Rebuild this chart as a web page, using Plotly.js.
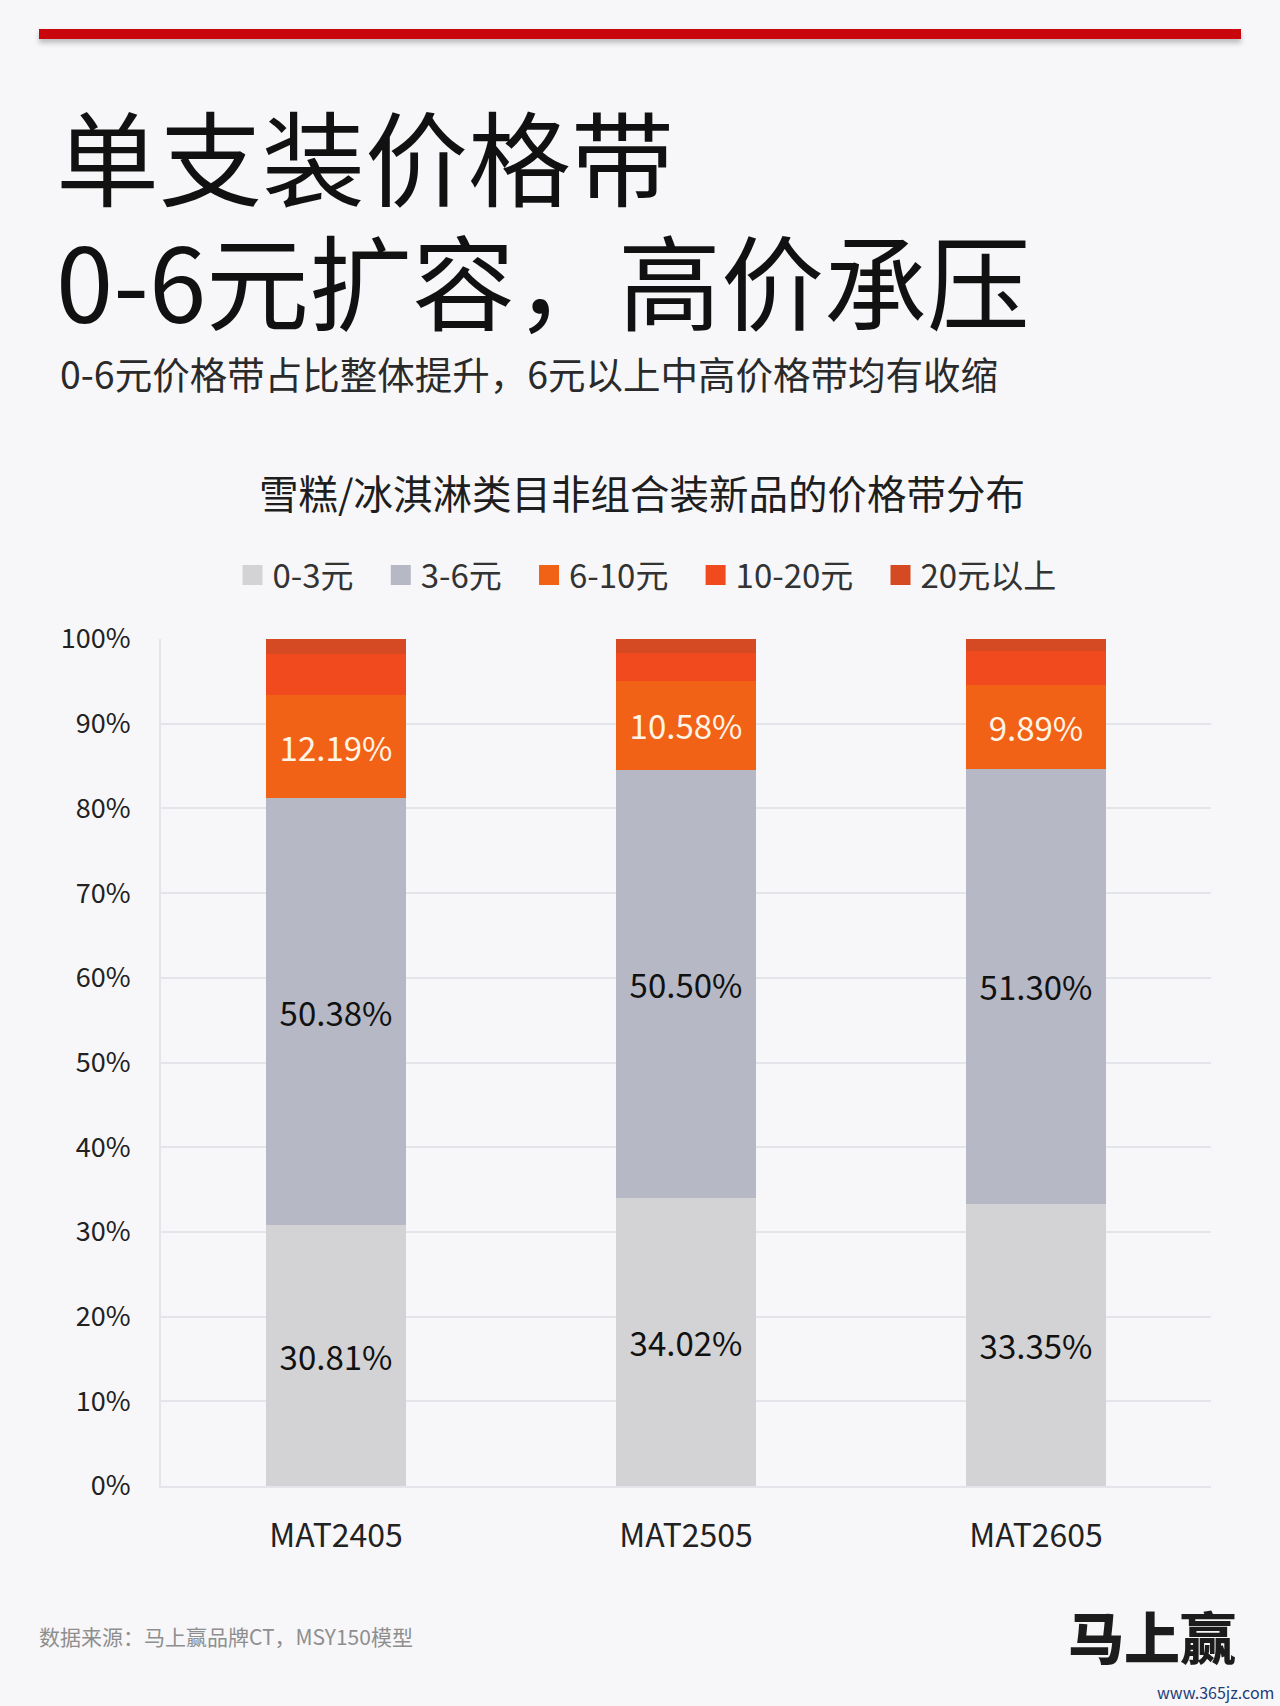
<!DOCTYPE html>
<html>
<head>
<meta charset="utf-8">
<script src="https://cdn.plot.ly/plotly-3.0.1.min.js"></script>
<style>
    html, body { margin: 0; padding: 0; background: #f7f7f9; }
    #page { position: relative; width: 1280px; height: 1706px; }
    #chart { position: absolute; left: 0; top: 0; width: 1280px; height: 1706px; }
    #topbar {
        position: absolute; left: 39px; top: 29px; width: 1202px; height: 10px;
        background: #c8060c; box-shadow: 0 4px 5px rgba(120, 120, 120, 0.45);
        z-index: 5; pointer-events: none;
    }
    .head {
        position: absolute; left: 56px; margin: 0; white-space: nowrap;
        font-family: "Noto Sans CJK SC", "Noto Sans", sans-serif;
        font-weight: 400; color: #111111; z-index: 5;
    }
    #head1, #head2 { font-size: 103px; line-height: 103px; height: 103px; }
    #head1 { top: 103px; }
    #head2 { top: 227px; }
    #subhead { left: 60px; top: 354px; font-size: 37.5px; line-height: 38px; height: 38px; color: #2a2a2a; }
</style>
</head>
<body>
<div id="page">
    <div id="chart"></div>
    <div id="topbar"></div>
    <div class="head" id="head1">单支装价格带</div>
    <div class="head" id="head2">0-6元扩容，高价承压</div>
    <div class="head" id="subhead">0-6元价格带占比整体提升，6元以上中高价格带均有收缩</div>
</div>
<script>
// values (share of new SKUs, %)
var periods = ['MAT2405', 'MAT2505', 'MAT2605'];
var bandNames = ['0-3元', '3-6元', '6-10元', '10-20元', '20元以上'];
var band0to3 = [30.81, 34.02, 33.35];
var band3to6 = [50.38, 50.50, 51.30];
var band6to10 = [12.19, 10.58, 9.89];
var band10to20 = [4.85, 3.25, 4.00];
var band20plus = [1.77, 1.65, 1.46];
var yTicks = [0, 10, 20, 30, 40, 50, 60, 70, 80, 90, 100];

var bandColors = ['#d3d3d5', '#b6b9c5', '#f16216', '#f14a1f', '#d54a22'];
var labelColors = ['#111111', '#111111', '#fff4e6', null, null];

// plot area in page pixels
var W = 1280, H = 1706;
var plotL = 161, plotR = 1211, plotT = 639, plotB = 1486;
function px(x) { return (x - plotL) / (plotR - plotL); }
function py(y) { return (plotB - y) / (plotB - plotT); }

var FONT = '"Noto Sans CJK SC", "Noto Sans", sans-serif';
var LEGEND_PAD = '\u00a0\u00a0\u00a0';

function bandTrace(i, values)
{
    var t = {
        type: 'bar',
        name: bandNames[i] + (i < bandNames.length - 1 ? LEGEND_PAD : ''),
        x: periods,
        y: values,
        marker: { color: bandColors[i], line: { width: 0 } },
        hoverinfo: 'skip'
    };
    if (labelColors[i]) {
        t.texttemplate = '%{y:.2f}%';
        t.textposition = 'inside';
        t.insidetextanchor = 'middle';
        t.textangle = 0;
        t.constraintext = 'none';
        t.textfont = { family: FONT, size: 33, color: labelColors[i] };
    } else {
        t.text = '';
        t.textposition = 'none';
    }
    return t;
}

function note(text, x, y, size, color, anchor, weight)
{
    return {
        text: text,
        xref: 'paper', yref: 'paper',
        x: px(x), y: py(y),
        xanchor: anchor, yanchor: 'middle', align: 'left',
        showarrow: false,
        font: { family: FONT, size: size, color: color, weight: weight || 400 }
    };
}

function draw(container)
{
    var traces = [
        bandTrace(0, band0to3),
        bandTrace(1, band3to6),
        bandTrace(2, band6to10),
        bandTrace(3, band10to20),
        bandTrace(4, band20plus)
    ];

    var layout = {
        width: W, height: H,
        paper_bgcolor: '#f7f7f9',
        plot_bgcolor: '#f7f7f9',
        margin: { l: plotL, r: W - plotR, t: plotT, b: H - plotB, pad: 0 },
        barmode: 'stack',
        bargap: 0.6,
        font: { family: FONT, color: '#222222' },
        title: {
            text: '雪糕/冰淇淋类目非组合装新品的价格带分布',
            font: { family: FONT, size: 39.5, color: '#1e1e1e', weight: 400 },
            xref: 'container', yref: 'container',
            x: 642 / W, xanchor: 'center',
            y: 1 - 495 / H, yanchor: 'middle'
        },
        showlegend: true,
        legend: {
            orientation: 'h',
            xref: 'paper', yref: 'paper',
            x: px(647), xanchor: 'center',
            y: py(575), yanchor: 'middle',
            font: { family: FONT, size: 33, color: '#333333' },
            traceorder: 'normal',
            bgcolor: 'rgba(0,0,0,0)'
        },
        xaxis: {
            type: 'category',
            showgrid: false,
            showline: true,
            linecolor: '#e4e5ea',
            linewidth: 2,
            ticks: '',
            ticklabelstandoff: 21,
            tickfont: { family: FONT, size: 32, color: '#222222' },
            fixedrange: true
        },
        yaxis: {
            range: [0, 100],
            tickmode: 'array',
            tickvals: yTicks,
            ticktext: yTicks.map(function (v) { return v + '%'; }),
            showgrid: true,
            gridcolor: '#e4e5ea',
            gridwidth: 2,
            zeroline: false,
            showline: true,
            linecolor: '#e4e5ea',
            linewidth: 2,
            ticks: '',
            ticklabelstandoff: 23,
            tickfont: { family: FONT, size: 27, color: '#222222' },
            fixedrange: true
        },
        annotations: [
            note('数据来源：马上赢品牌CT，MSY150模型', 37, 1636, 21, '#8e8e8e', 'left'),
            note('马上赢', 1238, 1634, 56, '#1c1c1c', 'right', 900),
            note('www.365jz.com', 1276, 1692, 16, '#1f3d7a', 'right')
        ]
    };

    Plotly.newPlot(container, traces, layout, { displayModeBar: false, staticPlot: true })
        .then(function () {
            // bigger legend squares, as in the original
            var pts = document.querySelectorAll('#' + container + ' .legend .legendpoints path');
            pts.forEach(function (p) { p.setAttribute('d', 'M10,10H-10V-10H10Z'); });
        });
}

draw('chart');
</script>
</body>
</html>
